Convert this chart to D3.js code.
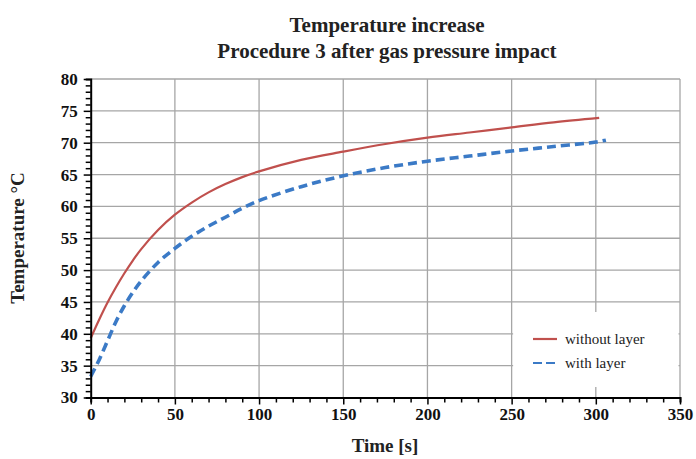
<!DOCTYPE html>
<meta charset="utf-8">
<style>
body { margin: 0; background: #fff; }
text { font-family: "Liberation Serif", "Times New Roman", serif; }
.grid line { stroke: #a6a6a6; stroke-width: 1.3px; }
.axis path, .axis line { stroke: #000; }
.axis text { font-size: 17px; font-weight: bold; fill: #111; }
</style>
<svg width="696" height="459"></svg>
<script src="https://cdn.jsdelivr.net/npm/d3@7"></script>
<script>
// readings taken off the original figure
var tWithout = [0, 5, 10, 15, 20, 25, 30, 40, 50, 60, 70, 80, 90, 100, 125, 150, 175, 200, 225, 250, 275, 302];
var vWithout = [39.3, 42.2, 44.9, 47.3, 49.5, 51.5, 53.3, 56.3, 58.7, 60.6, 62.2, 63.5, 64.6, 65.5, 67.3, 68.6, 69.8, 70.8, 71.6, 72.4, 73.2, 73.9];
var tWith = [0, 5, 10, 15, 20, 25, 30, 40, 50, 60, 70, 80, 90, 100, 125, 150, 175, 200, 225, 250, 275, 300, 306];
var vWith = [33.3, 35.9, 38.9, 41.9, 44.4, 46.5, 48.3, 51.2, 53.4, 55.3, 56.9, 58.3, 59.7, 60.9, 63.1, 64.8, 66.1, 67.1, 67.9, 68.7, 69.4, 70.1, 70.4];
var xTicks = [0, 50, 100, 150, 200, 250, 300, 350];
var yTicks = [30, 35, 40, 45, 50, 55, 60, 65, 70, 75, 80];
var seriesNames = ["without layer", "with layer"];

var svg = d3.select("svg");
var plotLeft = 90.7, plotRight = 680, plotTop = 79, plotBottom = 397.5;

var x = d3.scaleLinear().domain([0, 350]).range([plotLeft, plotRight]);
var y = d3.scaleLinear().domain([30, 80]).range([plotBottom, plotTop]);

// grid
var grid = svg.append("g").attr("class", "grid");
grid.selectAll(".gx").data(xTicks.slice(1)).enter().append("line")
	.attr("x1", function(d) { return x(d); }).attr("x2", function(d) { return x(d); })
	.attr("y1", y(80)).attr("y2", y(30));
grid.selectAll(".gy").data(yTicks.slice(1)).enter().append("line")
	.attr("x1", x(0)).attr("x2", x(350))
	.attr("y1", function(d) { return y(d); }).attr("y2", function(d) { return y(d); });

// curves
var line = d3.line()
	.x(function(d) { return x(d[0]); })
	.y(function(d) { return y(d[1]); })
	.curve(d3.curveCatmullRom);

var redData = d3.zip(tWithout, vWithout);
var blueData = d3.zip(tWith, vWith);

svg.append("path").datum(blueData)
	.attr("d", line).attr("fill", "none")
	.attr("stroke", "#3b7ac6").attr("stroke-width", 3.6)
	.attr("stroke-dasharray", "9,5");
svg.append("path").datum(redData)
	.attr("d", line).attr("fill", "none")
	.attr("stroke", "#c0504d").attr("stroke-width", 2.2);

// legend box covers the grid
var lg = svg.append("g");
lg.append("rect").attr("x", x(250) + 1.5).attr("y", 312).attr("width", x(350) - x(250) - 3).attr("height", 75).attr("fill", "#fff");
[0, 1].forEach(function(i) {
	var ly = 339 + i * 24;
	lg.append("line").attr("x1", 533).attr("x2", 557).attr("y1", ly).attr("y2", ly)
		.attr("stroke", i == 0 ? "#c0504d" : "#3b7ac6")
		.attr("stroke-width", 2.2)
		.attr("stroke-dasharray", i == 0 ? null : "9,4");
	lg.append("text").attr("x", 565).attr("y", ly + 5)
		.style("font-size", "15px").attr("fill", "#222")
		.text(seriesNames[i]);
});

// axes
var xAxis = svg.append("g").attr("class", "axis").attr("transform", "translate(0," + plotBottom + ")")
	.call(d3.axisBottom(x).tickValues(d3.range(0, 351, 10)).tickSize(5).tickFormat(""));
xAxis.select(".domain").attr("stroke-width", 2);
xAxis.selectAll(".tick line").attr("stroke-width", 1.5)
	.attr("y2", function(d) { return d % 50 == 0 ? 7 : 5; });

svg.append("g").attr("class", "axis").attr("transform", "translate(0," + plotBottom + ")")
	.call(d3.axisBottom(x).tickValues(xTicks).tickSize(0).tickPadding(10))
	.call(function(g) { g.select(".domain").remove(); });

var yAxis = svg.append("g").attr("class", "axis").attr("transform", "translate(" + plotLeft + ",0)")
	.call(d3.axisLeft(y).tickValues(d3.range(30, 80.5, 1)).tickSize(5).tickFormat(""));
yAxis.select(".domain").attr("stroke-width", 2);
yAxis.selectAll(".tick line").attr("stroke-width", 1.5)
	.attr("x2", function(d) { return d % 5 == 0 ? -7 : -5; });

svg.append("g").attr("class", "axis").attr("transform", "translate(" + plotLeft + ",0)")
	.call(d3.axisLeft(y).tickValues(yTicks).tickSize(0).tickPadding(13))
	.call(function(g) { g.select(".domain").remove(); });

// titles
svg.append("text").attr("x", 387).attr("y", 32).attr("text-anchor", "middle")
	.style("font-size", "21px").style("font-weight", "bold").attr("fill", "#222")
	.text("Temperature increase");
svg.append("text").attr("x", 387).attr("y", 58).attr("text-anchor", "middle")
	.style("font-size", "21px").style("font-weight", "bold").attr("fill", "#222")
	.text("Procedure 3 after gas pressure impact");
svg.append("text").attr("x", 385).attr("y", 452).attr("text-anchor", "middle")
	.style("font-size", "19px").style("font-weight", "bold").attr("fill", "#222")
	.text("Time [s]");
svg.append("text").attr("transform", "translate(24,238) rotate(-90)").attr("text-anchor", "middle")
	.style("font-size", "19px").style("font-weight", "bold").attr("fill", "#222")
	.text("Temperature °C");
</script>
